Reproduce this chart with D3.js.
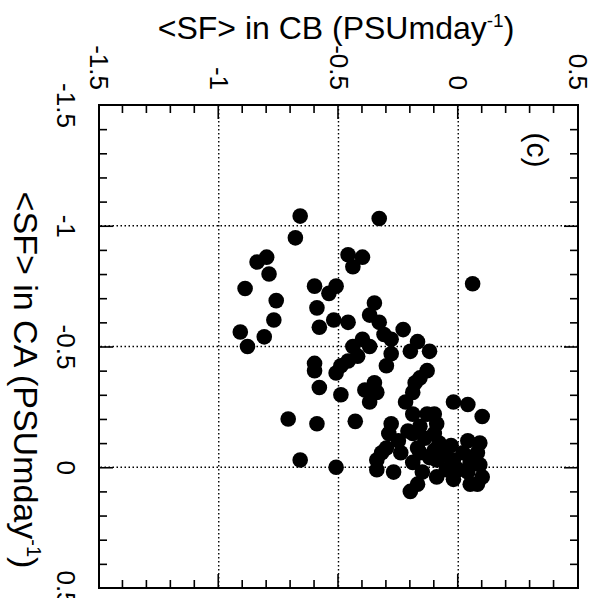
<!DOCTYPE html>
<html>
<head>
<meta charset="utf-8">
<script src="https://cdn.jsdelivr.net/npm/d3@7"></script>
<style>
  body { margin: 0; background: #fff; }
  text { font-family: "Liberation Sans", Arial, Helvetica, sans-serif; fill: #000; }
</style>
</head>
<body>
<div id="wrapper"></div>
<script>
// <SF> in CA (PSU m day-1), one value per point
const caValues = [
  -1.04, -1.03, -0.95, -0.85, -0.87, -0.80, -0.88, -0.87, -0.83, -0.76,
  -0.74, -0.69, -0.75, -0.72, -0.75, -0.66, -0.68, -0.61, -0.56, -0.50,
  -0.54, -0.58, -0.61, -0.60, -0.63, -0.60, -0.55, -0.53, -0.57, -0.52,
  -0.48, -0.48, -0.53, -0.50, -0.50, -0.46, -0.44, -0.42, -0.47, -0.42,
  -0.43, -0.40, -0.39, -0.40, -0.37, -0.35, -0.31, -0.33, -0.30, -0.32,
  -0.35, -0.31, -0.27, -0.27, -0.22, -0.27, -0.26, -0.21, -0.22, -0.20,
  -0.18, -0.19, -0.18, -0.14, -0.11, -0.17, -0.12, -0.14, -0.10, -0.09,
  -0.11, -0.10, -0.06, -0.01, 0.04, 0.07, 0.07, 0.05, 0.01, 0.04,
  0.02, 0.07, 0.10, -0.02, -0.06, -0.04, -0.03, -0.03, -0.06, -0.02,
  -0.06, 0.01, 0.02, -0.08, -0.03, 0.00, -0.03, -0.08, -0.07, -0.05,
  0.01, 0.02, -0.22, -0.18, -0.14, -0.15, -0.06
];
// <SF> in CB (PSU m day-1), same order
const cbValues = [
  -0.66, -0.33, -0.68, -0.84, -0.80, -0.79, -0.46, -0.40, -0.44, 0.06,
  -0.89, -0.76, -0.60, -0.54, -0.51, -0.59, -0.35, -0.77, -0.91, -0.88,
  -0.81, -0.58, -0.52, -0.46, -0.37, -0.33, -0.31, -0.28, -0.23, -0.17,
  -0.20, -0.12, -0.40, -0.44, -0.37, -0.42, -0.46, -0.49, -0.28, -0.30,
  -0.60, -0.60, -0.51, -0.13, -0.16, -0.18, -0.19, -0.58, -0.49, -0.39,
  -0.35, -0.34, -0.37, -0.22, -0.19, -0.02, 0.04, 0.10, -0.10, -0.71,
  -0.59, -0.43, -0.28, -0.29, -0.25, -0.16, -0.14, -0.10, -0.08, -0.03,
  0.04, 0.09, 0.08, 0.09, 0.10, 0.08, 0.05, -0.02, -0.05, -0.09,
  -0.15, -0.17, -0.20, -0.19, -0.16, -0.12, -0.09, -0.02, 0.02, 0.05,
  -0.32, -0.34, -0.27, -0.30, -0.66, -0.51, -0.34, -0.17, -0.10, -0.06,
  0.00, 0.04, -0.13, -0.09, -0.19, -0.21, -0.24
];

const domainCA = [-1.5, 0.5];
const domainCB = [-1.5, 0.5];
const tickLabels = [-1.5, -1, -0.5, 0, 0.5];
const gridValues = [-1, -0.5, 0];
const minorTicks = [-1.4, -1.3, -1.2, -1.1, -0.9, -0.8, -0.7, -0.6, -0.4, -0.3, -0.2, -0.1, 0.1, 0.2, 0.3, 0.4];

const points = caValues.map((v, i) => ({ ca: v, cb: cbValues[i] }));

// the figure is printed turned a quarter turn clockwise, so the plot is
// drawn in its own orientation and the whole group is rotated
const W = 483, H = 479;
const fmt = d => String(d); // plain hyphen, not the unicode minus

const svg = d3.select("#wrapper")
  .append("svg")
  .attr("width", 601)
  .attr("height", 598);

svg.append("rect").attr("width", 601).attr("height", 598).attr("fill", "#fff");

const x = d3.scaleLinear().domain(domainCA).range([0, W]);
const y = d3.scaleLinear().domain(domainCB).range([H, 0]);

const g = svg.append("g")
  .attr("transform", "translate(578,105) rotate(90)");

// dotted grid
g.selectAll(".gx")
  .data(gridValues)
  .enter()
  .append("line")
  .attr("x1", d => x(d)).attr("x2", d => x(d))
  .attr("y1", 0).attr("y2", H)
  .attr("stroke", "#000").attr("stroke-width", 1.4)
  .attr("stroke-dasharray", "1.5,2.5");

g.selectAll(".gy")
  .data(gridValues)
  .enter()
  .append("line")
  .attr("y1", d => y(d)).attr("y2", d => y(d))
  .attr("x1", 0).attr("x2", W)
  .attr("stroke", "#000").attr("stroke-width", 1.4)
  .attr("stroke-dasharray", "1.5,2.5");

// inward ticks on all four sides
function tickAxis(axis, sc, size, vals, tr) {
  const a = g.append("g")
    .attr("transform", tr)
    .call(axis(sc).tickValues(vals).tickSize(-size).tickFormat(""));
  a.select(".domain").remove();
  a.selectAll("line").attr("stroke", "#000").attr("stroke-width", 1.6);
}
[[minorTicks, 8], [gridValues, 14]].forEach(([vals, size]) => {
  tickAxis(d3.axisBottom, x, size, vals, `translate(0,${H})`);
  tickAxis(d3.axisTop, x, size, vals, "translate(0,0)");
  tickAxis(d3.axisLeft, y, size, vals, "translate(0,0)");
  tickAxis(d3.axisRight, y, size, vals, `translate(${W},0)`);
});

// tick labels
const labCA = g.append("g")
  .attr("transform", `translate(0,${H})`)
  .call(d3.axisBottom(x).tickValues(tickLabels).tickSize(0).tickPadding(24).tickFormat(fmt));
labCA.select(".domain").remove();
labCA.selectAll("text").style("font-size", "26px").attr("font-family", null);

const labCB = g.append("g")
  .call(d3.axisLeft(y).tickValues(tickLabels).tickSize(0).tickPadding(15).tickFormat(fmt));
labCB.select(".domain").remove();
labCB.selectAll("text").style("font-size", "26px").attr("font-family", null);

// frame
g.append("rect")
  .attr("width", W).attr("height", H)
  .attr("fill", "none").attr("stroke", "#000").attr("stroke-width", 2);

// points
g.selectAll("circle")
  .data(points)
  .enter()
  .append("circle")
  .attr("cx", d => x(d.ca))
  .attr("cy", d => y(d.cb))
  .attr("r", 7.8)
  .attr("fill", "#000");

// panel letter
g.append("text")
  .attr("x", 45).attr("y", 41)
  .attr("dy", "0.35em")
  .style("text-anchor", "middle")
  .style("font-size", "30px")
  .text("(c)");

// axis titles
const titleTop = svg.append("text")
  .attr("x", 336).attr("y", 39)
  .style("text-anchor", "middle")
  .style("font-size", "32px");
titleTop.append("tspan").text("<SF> in CB (PSUmday");
titleTop.append("tspan").attr("dy", -12).style("font-size", "19px").text("-1");
titleTop.append("tspan").attr("dy", 12).text(")");

const titleLeft = svg.append("text")
  .attr("transform", "translate(14,380) rotate(90)")
  .style("text-anchor", "middle")
  .style("font-size", "34px");
titleLeft.append("tspan").text("<SF> in CA (PSUmday");
titleLeft.append("tspan").attr("dy", -13).style("font-size", "20px").text("-1");
titleLeft.append("tspan").attr("dy", 13).text(")");
</script>
</body>
</html>
